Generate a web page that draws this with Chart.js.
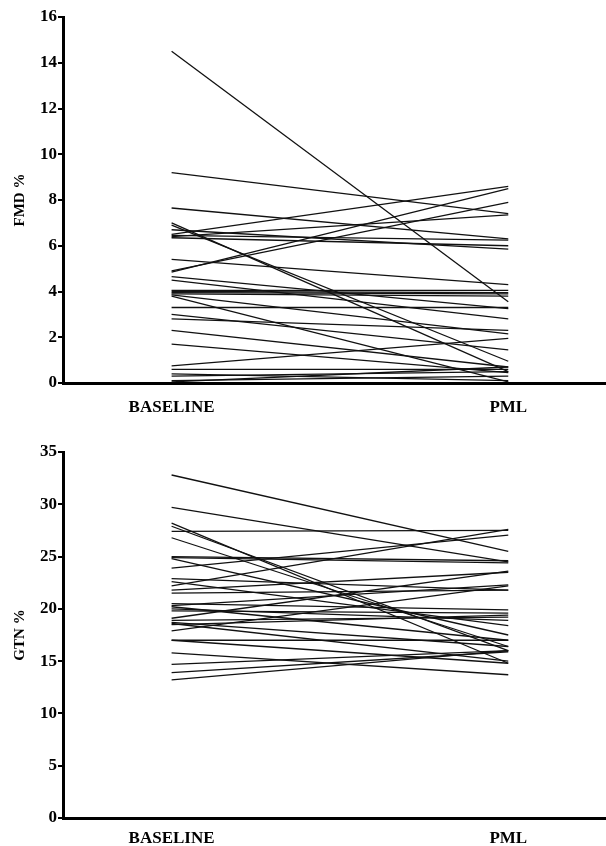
<!DOCTYPE html>
<html>
<head>
<meta charset="utf-8">
<script src="https://cdn.jsdelivr.net/npm/chart.js@4/dist/chart.umd.min.js"></script>
<style>
  html, body { margin: 0; padding: 0; background: #fff; }
  #wrap { position: relative; width: 606px; height: 846px; }
  canvas { position: absolute; left: 0; }
  #fmd { top: 0; }
  #gtn { top: 423px; }
</style>
</head>
<body>
<div id="wrap">
  <canvas id="fmd" width="606" height="423"></canvas>
  <canvas id="gtn" width="606" height="423"></canvas>
</div>
<script>
const CATEGORIES = ['BASELINE', 'PML'];
const X_POS = [1, 4.1];

// FMD %, one entry per subject (baseline -> PML)
const FMD_BASELINE = [14.5, 9.2, 7.65, 7.0, 6.9, 6.7, 6.5, 6.45, 6.4, 6.35, 5.4, 4.9, 4.85,
  4.65, 4.5, 4.05, 4.0, 3.95, 3.9, 3.85, 3.8, 3.3, 3.0, 2.8, 2.3, 1.7, 0.75, 0.6, 0.4, 0.3, 0.1, 0.05];
const FMD_PML = [3.55, 7.4, 6.3, 0.5, 0.95, 5.85, 8.6, 6.25, 7.35, 6.0, 4.3, 7.9, 8.5,
  3.25, 2.8, 4.05, 3.95, 3.9, 3.8, 2.15, 0.05, 3.3, 1.45, 2.3, 0.7, 0.45, 1.95, 0.6, 0.1, 0.5, 0.3, 0.7];
const FMD_TICKS = [0, 2, 4, 6, 8, 10, 12, 14, 16];

// GTN %
const GTN_BASELINE = [32.8, 29.7, 28.2, 27.9, 27.4, 26.8, 25.0, 24.9, 24.8, 23.9, 22.9, 22.6,
  22.2, 21.8, 21.5, 20.5, 20.3, 20.2, 20.0, 19.8, 19.1, 18.9, 18.7, 18.6, 18.5, 17.9, 17.0, 17.0,
  15.8, 14.7, 13.9, 13.2];
const GTN_PML = [25.5, 24.5, 14.8, 16.0, 27.5, 16.4, 24.6, 24.4, 17.5, 27.05, 21.8, 18.4,
  27.6, 23.5, 21.8, 19.9, 22.3, 17.0, 18.9, 19.6, 23.6, 19.2, 16.4, 15.0, 19.4, 22.2, 17.0, 14.8,
  13.7, 16.0, 15.9, 16.0];
const GTN_TICKS = [0, 5, 10, 15, 20, 25, 30, 35];

const FONT_FAMILY = "'Liberation Serif', 'Times New Roman', serif";

function make_datasets(baseline, pml) {
  return baseline.map((b, i) => ({
    data: [{x: X_POS[0], y: b}, {x: X_POS[1], y: pml[i]}],
    borderColor: '#111',
    borderWidth: 1.3,
    pointRadius: 0,
    fill: false,
  }));
}

function make_chart(id, baseline, pml, yTicks, title, padTop, xHeight, xPad) {
  return new Chart(document.getElementById(id), {
    type: 'line',
    data: {datasets: make_datasets(baseline, pml)},
    options: {
      responsive: false,
      animation: false,
      layout: {padding: {top: padTop, left: 0, right: 0, bottom: 0}},
      plugins: {legend: {display: false}, tooltip: {enabled: false}},
      scales: {
        x: {
          type: 'linear',
          min: 0,
          max: 5,
          afterBuildTicks: (axis) => { axis.ticks = X_POS.map(v => ({value: v})); },
          afterFit: (axis) => { axis.height = xHeight; },
          grid: {display: false, drawTicks: false},
          border: {display: true, color: '#000', width: 3},
          ticks: {
            autoSkip: false,
            maxRotation: 0,
            padding: xPad,
            color: '#000',
            font: {family: FONT_FAMILY, weight: 'bold', size: 17},
            callback: (v, i) => CATEGORIES[i],
          },
        },
        y: {
          min: yTicks[0],
          max: yTicks[yTicks.length - 1],
          afterBuildTicks: (axis) => { axis.ticks = yTicks.map(v => ({value: v})); },
          afterFit: (axis) => { axis.width = 63; },
          grid: {drawOnChartArea: false, tickLength: 5, color: '#000', lineWidth: 2},
          border: {display: true, color: '#000', width: 3},
          ticks: {
            padding: 1,
            color: '#000',
            font: {family: FONT_FAMILY, weight: 'bold', size: 17},
          },
          title: {
            display: true,
            text: title,
            color: '#000',
            padding: {top: 11, bottom: 0},
            font: {family: FONT_FAMILY, weight: 'bold', size: 15},
          },
        },
      },
    },
  });
}

make_chart('fmd', FMD_BASELINE, FMD_PML, FMD_TICKS, 'FMD %', 17, 40, 14);
make_chart('gtn', GTN_BASELINE, GTN_PML, GTN_TICKS, 'GTN %', 29, 28, 10);
</script>
</body>
</html>
